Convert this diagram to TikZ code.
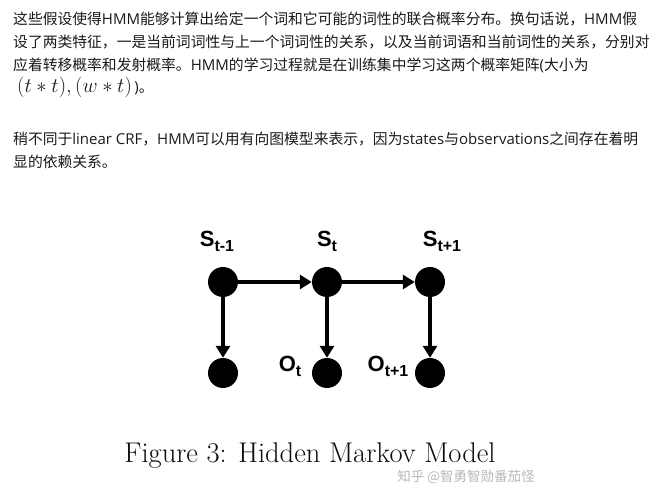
\documentclass[tikz,border=0pt]{standalone}
\usepackage{fontspec}
\usepackage{tikz}
\usetikzlibrary{arrows.meta,positioning}
\newfontfamily\cjk{Noto Sans CJK SC}
\newfontfamily\latn{Open Sans}
\newfontfamily\lblfont{Liberation Sans}
\definecolor{hmtext}{HTML}{1A1A1A}
\definecolor{hmnode}{HTML}{000000}
\definecolor{hmgrey}{HTML}{B8B8B8}
\newcommand{\hmen}[1]{{\latn\fontsize{15}{18}\selectfont #1}}
\newcommand{\hmsub}[2]{#1\raisebox{-5pt}{\fontsize{16}{16}\selectfont #2}}
\tikzset{
  txtline/.style  = {anchor=base west, inner sep=0pt, text=hmtext,
                     font=\cjk\fontsize{14.8}{18}\selectfont},
  hstate/.style   = {circle, fill=hmnode, minimum size=30pt, inner sep=0pt},
  vlbl/.style     = {anchor=base, inner sep=0pt, text=hmnode,
                     font=\lblfont\bfseries\fontsize{22}{24}\selectfont},
  hmarrow/.style  = {-{Triangle[length=12pt,width=14pt]}, draw=hmnode,
                     line width=4.6pt},
  captxt/.style   = {anchor=base, inner sep=0pt, text=black!95,
                     font=\fontsize{28.5}{32}\selectfont},
  wmark/.style    = {anchor=base, inner sep=0pt, text=hmgrey,
                     font=\cjk\fontsize{13.5}{15}\selectfont},
}

\begin{document}
\begin{tikzpicture}[x=1pt, y=-1pt]
  \useasboundingbox[fill=white] (0,0) rectangle (670,486);

  % ---------- first paragraph ---------------------------------------------
  \node[txtline] (p1a) at (13,25)
    {这些假设使得\hmen{HMM}能够计算出给定一个词和它可能的词性的联合概率分布。换句话说，\hmen{HMM}假};
  \node[txtline] (p1b) at (13,48)
    {设了两类特征，一是当前词词性与上一个词词性的关系，以及当前词语和当前词性的关系，分别对};
  \node[txtline] (p1c) at (13,71)
    {应着转移概率和发射概率。\hmen{HMM}的学习过程就是在训练集中学习这两个概率矩阵\hmen{(}大小为};
  \node[txtline] (p1d) at (17,93)
    {{\fontsize{19.5}{24}\selectfont$(t*t),(w*t)$}\hmen{\,)}。};

  % ---------- second paragraph --------------------------------------------
  \node[txtline] (p2a) at (13,145)
    {稍不同于\hmen{linear CRF}，\hmen{HMM}可以用有向图模型来表示，因为\hmen{states}与\hmen{observations}之间存在着明};
  \node[txtline] (p2b) at (13,168)
    {显的依赖关系。};

  % ---------- hidden states -----------------------------------------------
  \node[hstate] (s1) at (223,282) {};
  \node[hstate] (s2) at (327,282) {};
  \node[hstate] (s3) at (430,282) {};

  % ---------- observations ------------------------------------------------
  \node[hstate] (o1) at (223,373) {};
  \node[hstate] (o2) at (327,373) {};
  \node[hstate] (o3) at (430,373) {};

  % ---------- labels ------------------------------------------------------
  \node[vlbl] (ls1) at (217,247) {\hmsub{S}{t-1}};
  \node[vlbl] (ls2) at (327,247) {\hmsub{S}{t}};
  \node[vlbl] (ls3) at (442,247) {\hmsub{S}{t+1}};
  \node[vlbl] (lo2) at (290,372) {\hmsub{O}{t}};
  \node[vlbl] (lo3) at (388,372) {\hmsub{O}{t+1}};

  % ---------- connectors --------------------------------------------------
  \draw[hmarrow] (s1.east) -- (s2.west);
  \draw[hmarrow] (s2.east) -- (s3.west);
  \draw[hmarrow] (s1.south) -- (o1.north);
  \draw[hmarrow] (s2.south) -- (o2.north);
  \draw[hmarrow] (s3.south) -- (o3.north);

  % ---------- caption -----------------------------------------------------
  \node[captxt] (cap) at (310,463) {Figure 3: Hidden Markov Model};
  \node[wmark] (wm) at (466,482) {知乎 @智勇智勋番茄怪};

\end{tikzpicture}
\end{document}
